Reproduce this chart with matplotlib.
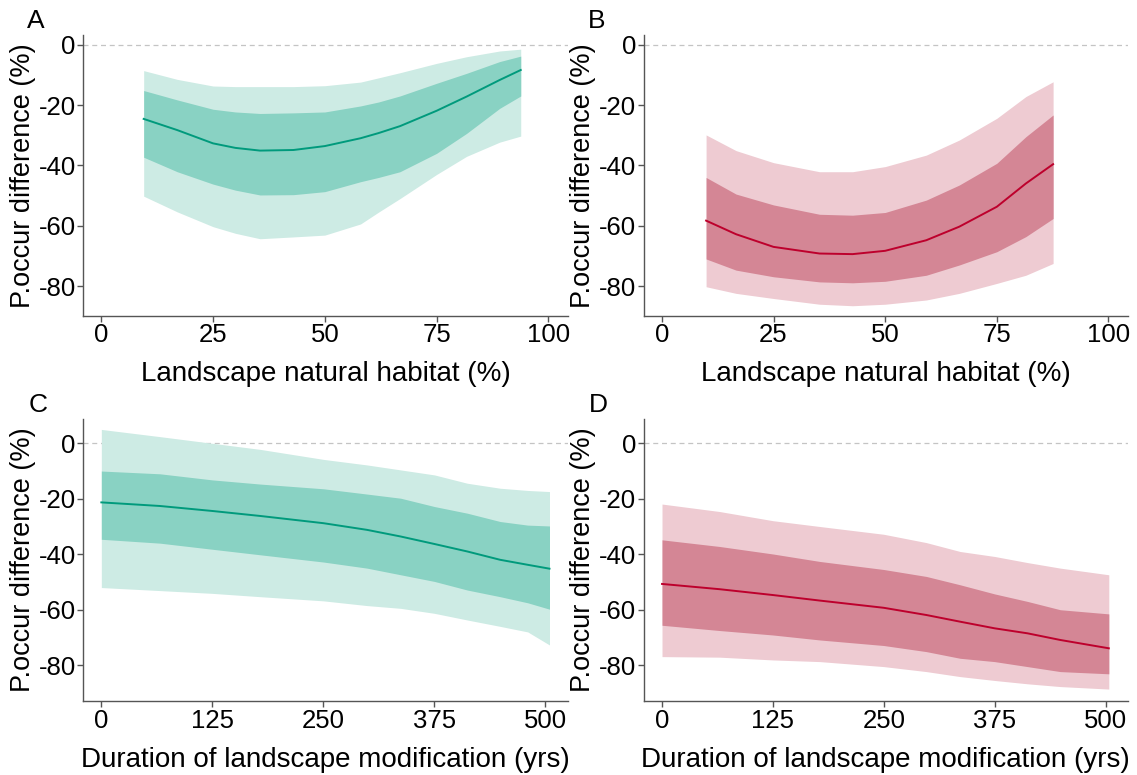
import numpy as np
import matplotlib.pyplot as plt

plt.rcParams['font.family'] = ['Liberation Sans', 'DejaVu Sans']
plt.rcParams['axes.unicode_minus'] = False

# Panel A - natural habitat, teal
a_x = [9.5, 17, 25, 30, 35.5, 43, 50, 58, 62, 66.8, 75, 81.7, 89.1, 93.8]
a_hi95 = [-8.6, -11.5, -13.7, -13.9, -13.9, -13.9, -13.6, -12.4, -11.0, -9.3, -6.2, -4.0, -2.1, -1.5]
a_hi50 = [-15.2, -18.3, -21.4, -22.3, -22.8, -22.6, -22.3, -20.3, -19.0, -17.0, -12.8, -9.5, -5.6, -3.8]
a_mean = [-24.6, -28.3, -32.7, -34.2, -35.1, -34.9, -33.6, -31.0, -29.3, -27.0, -21.9, -17.2, -11.7, -8.4]
a_lo50 = [-37.3, -42.1, -46.2, -48.2, -49.8, -49.7, -48.7, -45.4, -44.0, -42.1, -36.0, -29.4, -21.1, -17.0]
a_lo95 = [-50.2, -55.4, -60.3, -62.5, -64.3, -63.7, -63.1, -59.4, -55.5, -51.0, -43.0, -37.0, -32.3, -30.3]

# Panel B - natural habitat, red
b_x = [9.9, 16.6, 25, 35.3, 42.7, 50, 59.2, 66.6, 75, 81.5, 87.6]
b_hi95 = [-29.9, -35.1, -39.1, -42.1, -42.1, -40.4, -36.6, -31.6, -24.4, -17.2, -12.3]
b_hi50 = [-44.0, -49.5, -53.1, -56.2, -56.5, -55.6, -51.5, -46.5, -39.3, -30.5, -23.3]
b_mean = [-58.3, -62.8, -67.0, -69.2, -69.4, -68.3, -64.8, -60.3, -53.7, -46.0, -39.6]
b_lo50 = [-71.0, -74.7, -76.9, -78.6, -78.9, -78.4, -76.4, -73.0, -68.6, -63.6, -57.6]
b_lo95 = [-80.2, -82.4, -84.1, -86.0, -86.5, -86.0, -84.6, -82.4, -79.1, -76.4, -72.5]

# Panel C - duration, teal
c_x = [0, 66, 125, 179, 250, 299, 337, 375, 412, 449, 480, 504.5]
c_hi95 = [5.0, 2.4, 0.0, -2.2, -5.8, -7.8, -9.6, -11.4, -14.4, -16.2, -17.0, -17.4]
c_hi50 = [-10.0, -11.0, -13.2, -14.7, -16.4, -18.3, -19.8, -22.8, -25.2, -28.2, -29.5, -29.8]
c_mean = [-21.3, -22.6, -24.4, -26.2, -28.8, -31.2, -33.6, -36.3, -39.0, -42.0, -43.8, -45.2]
c_lo50 = [-34.6, -36.0, -38.2, -40.2, -42.8, -45.0, -47.4, -49.8, -52.9, -55.3, -57.5, -59.8]
c_lo95 = [-52.0, -53.1, -54.1, -55.3, -56.8, -58.5, -59.5, -61.3, -63.7, -66.0, -68.0, -72.7]

# Panel D - duration, red
d_x = [0, 65, 125, 178, 250, 298, 336, 375, 412, 449, 503.7]
d_hi95 = [-21.9, -24.6, -27.9, -30.0, -32.8, -35.8, -39.0, -40.8, -43.0, -45.0, -47.4]
d_hi50 = [-34.8, -37.2, -39.9, -42.6, -45.5, -48.0, -51.0, -54.3, -57.0, -60.0, -61.5]
d_mean = [-50.7, -52.6, -54.7, -56.7, -59.3, -61.9, -64.3, -66.7, -68.5, -70.9, -73.9]
d_lo50 = [-65.6, -67.5, -69.1, -70.9, -72.9, -75.1, -77.5, -78.7, -80.5, -82.3, -83.1]
d_lo95 = [-76.9, -77.1, -78.1, -78.7, -80.5, -82.3, -84.1, -85.5, -86.7, -87.7, -88.6]

hab_ticks = [0, 25, 50, 75, 100]
dur_ticks = [0, 125, 250, 375, 500]
y_ticks = [0, -20, -40, -60, -80]

teal = ('#cdebe4', '#89d2c3', '#009a7c')
red = ('#eecbd2', '#d48695', '#bd002c')

panels = [
    ('A', a_x, a_hi95, a_hi50, a_mean, a_lo50, a_lo95, teal, hab_ticks, (-4.0, 104.3), (-89.8, 3.2), 'Landscape natural habitat (%)'),
    ('B', b_x, b_hi95, b_hi50, b_mean, b_lo50, b_lo95, red, hab_ticks, (-4.0, 104.3), (-89.8, 3.2), 'Landscape natural habitat (%)'),
    ('C', c_x, c_hi95, c_hi50, c_mean, c_lo50, c_lo95, teal, dur_ticks, (-20.3, 525), (-92.9, 8.65), 'Duration of landscape modification (yrs)'),
    ('D', d_x, d_hi95, d_hi50, d_mean, d_lo50, d_lo95, red, dur_ticks, (-20.3, 525), (-92.9, 8.65), 'Duration of landscape modification (yrs)'),
]

W, H = 1137, 775
boxes = [(83.3, 35, 567.7, 315.7), (644, 35, 1127.7, 315.7),
         (83.3, 419.3, 567.7, 701), (644, 419.3, 1127.7, 701)]
letter_pos = [(36, 21), (597, 21), (38, 405), (598, 405)]

fig = plt.figure(figsize=(W / 100, H / 100), dpi=100)

for (lab, x, hi95, hi50, mean, lo50, lo95, cols, xt, xl, yl, xlab), box, lp in zip(panels, boxes, letter_pos):
    x0, y0, x1, y1 = box
    ax = fig.add_axes([x0 / W, 1 - y1 / H, (x1 - x0) / W, (y1 - y0) / H])
    ax.axhline(0, color='#c4c4c4', lw=0.9, ls=(0, (4, 3)), zorder=0)
    ax.fill_between(x, lo95, hi95, color=cols[0], lw=0)
    ax.fill_between(x, lo50, hi50, color=cols[1], lw=0)
    ax.plot(x, mean, color=cols[2], lw=1.4)
    ax.set_xlim(*xl)
    ax.set_ylim(*yl)
    ax.set_xticks(xt)
    ax.set_yticks(y_ticks)
    for s in ('top', 'right'):
        ax.spines[s].set_visible(False)
    for s in ('left', 'bottom'):
        ax.spines[s].set_color('#555555')
        ax.spines[s].set_linewidth(1.0)
    ax.tick_params(length=4, width=1.0, color='#555555', labelsize=18.5, pad=1.5, labelcolor='black')
    ax.set_xlabel(xlab, fontsize=20, labelpad=10)
    ax.set_ylabel('P.occur difference (%)', fontsize=19.5, labelpad=2)
    fig.text(lp[0] / W, 1 - lp[1] / H, lab, fontsize=19, ha='center', va='center')

fig.savefig('out.png', dpi=100)
